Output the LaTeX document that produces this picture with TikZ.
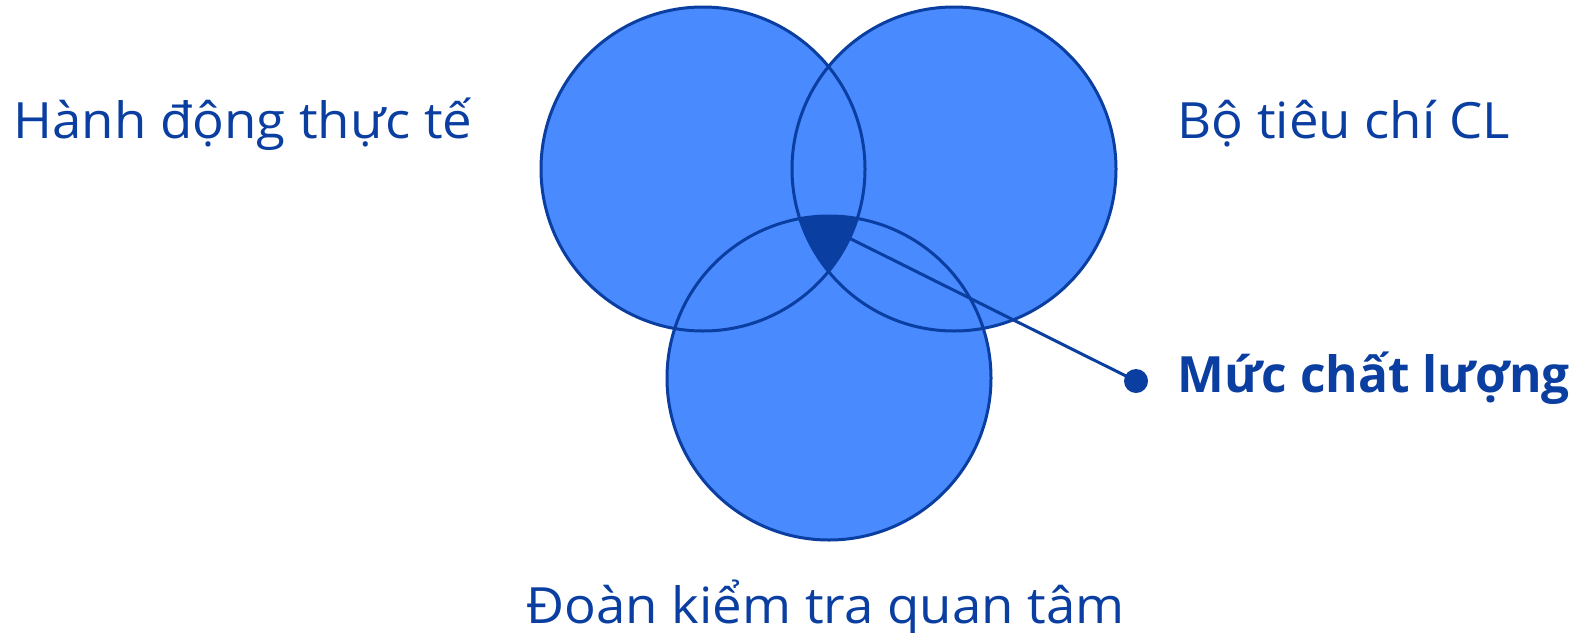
\documentclass[tikz,border=0pt]{standalone}
\usepackage{fontspec}
\setmainfont{Open Sans}
\usepackage{xcolor}
\usetikzlibrary{positioning}
\definecolor{venn}{HTML}{4A8AFF}
\definecolor{vennline}{HTML}{0A3EA0}
\tikzset{lbl/.style={text=vennline,font=\fontsize{25}{30}\selectfont,anchor=base west,inner sep=0pt,xscale=1.055}}
\begin{document}
\begin{tikzpicture}[x=0.5pt,y=-0.5pt]
\useasboundingbox(0,0)rectangle(1579,632);
\fill[venn](703,169)circle(162)
(954,169)circle(162)
(829,378)circle(162);
\begin{scope}
\clip(703,169)circle(162);
\clip(954,169)circle(162);
\fill[vennline](829,378)circle(162);
\end{scope}
% outlines on top
\draw[vennline,line width=1.5pt](703,169)circle(162)
(954,169)circle(162)
(829,378)circle(162);
\coordinate(tip)at(845,236);
\node[shape=circle,fill=vennline,inner sep=0pt,minimum size=12](dot)at(1136,381){};
\draw[vennline,line width=1.5pt](tip)--(dot.center);
\node[lbl](act)at(13,138){Hành động thực tế};
\node[lbl](crit)at(1177,138){Bộ tiêu chí CL};
\node[lbl,font=\fontsize{25}{30}\selectfont\bfseries,xscale=0.94](lvl)at(1177,392){Mức chất lượng};
\node[lbl](team)at(526,623){Đoàn kiểm tra quan tâm};
\end{tikzpicture}
\end{document}
